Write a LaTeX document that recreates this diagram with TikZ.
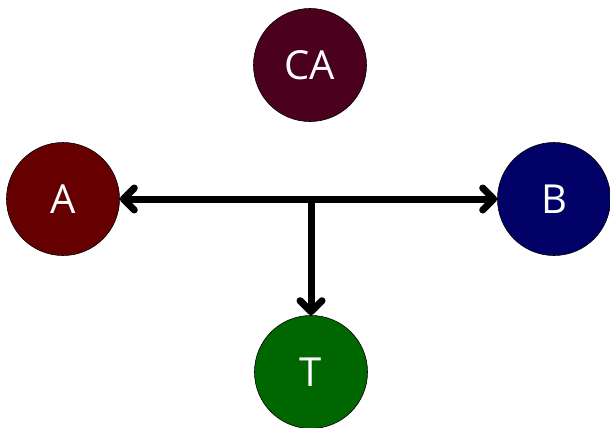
\documentclass[tikz,border=0pt]{standalone}
\usepackage{fontspec}
\setmainfont{Open Sans}
\usetikzlibrary{arrows.meta}
\definecolor{caCol}{HTML}{4B001E}
\definecolor{aCol}{HTML}{660000}
\definecolor{bCol}{HTML}{000066}
\definecolor{tCol}{HTML}{006600}
\tikzset{barb/.tip={Straight Barb[length=11pt,width=22pt,line cap=round,line join=round]}}
\begin{document}
\begin{tikzpicture}[x=1pt,y=-1pt,
  agent/.style={circle,draw=black,line width=0.6pt,minimum size=113pt,inner sep=0pt,text=white,font=\fontsize{40}{44}\selectfont},
  conn/.style={line width=7pt}]
\useasboundingbox (0,0) rectangle (610,428);
\node[agent,fill=caCol] (CA) at (310,65) {CA};
\node[agent,fill=aCol] (A) at (63,199) {A};
\node[agent,fill=bCol] (B) at (554,199) {B};
\node[agent,fill=tCol] (T) at (311,372) {T};
\coordinate (M) at (311,199);
\draw[conn,barb-barb] (A) -- (B);
\draw[conn,-barb] (M) -- (T);
\end{tikzpicture}
\end{document}
